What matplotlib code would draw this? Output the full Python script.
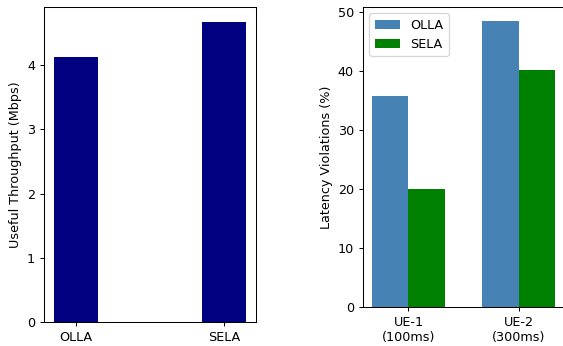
import matplotlib.pyplot as plt
import numpy as np

# throughput per scheme
schemes = ['OLLA', 'SELA']
throughput = [4.12, 4.67]

# latency violations per UE
ues = ['UE-1\n(100ms)', 'UE-2\n(300ms)']
olla_viol = [35.7, 48.4]
sela_viol = [20.0, 40.1]

DPI = 92
fig = plt.figure(figsize=(563 / DPI, 346 / DPI), dpi=DPI)

ax1 = fig.add_axes([44 / 563, 24 / 346, 212 / 563, 315 / 346])
ax1.bar(np.arange(len(schemes)), throughput, width=0.3, color='navy')
ax1.set_xticks(np.arange(len(schemes)))
ax1.set_xticklabels(schemes)
ax1.set_ylabel('Useful Throughput (Mbps)')

ax2 = fig.add_axes([363 / 563, 39 / 346, 201 / 563, 300 / 346])
x = np.arange(len(ues))
w = 0.33
ax2.bar(x - w / 2, olla_viol, width=w, color='steelblue', label='OLLA')
ax2.bar(x + w / 2, sela_viol, width=w, color='green', label='SELA')
ax2.set_xticks(x)
ax2.set_xticklabels(ues)
ax2.set_ylabel('Latency Violations (%)')
ax2.legend(loc='upper left')

fig.savefig('out.png', dpi=DPI)
